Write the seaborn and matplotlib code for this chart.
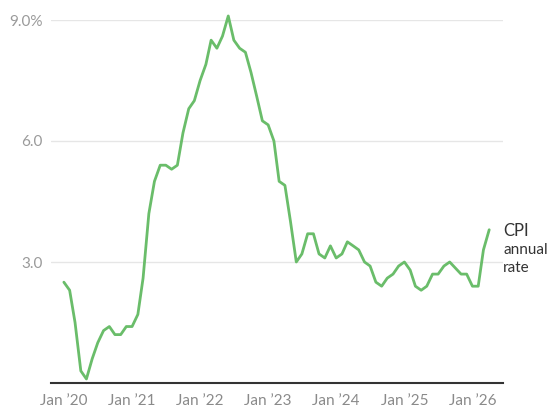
import matplotlib
matplotlib.use("Agg")
import matplotlib.pyplot as plt
import seaborn as sns
import pandas as pd

# Monthly CPI annual rate (%), Jan 2020 - Apr 2026
cpi_2020 = [2.5, 2.3, 1.5, 0.3, 0.1, 0.6, 1.0, 1.3, 1.4, 1.2, 1.2, 1.4]
cpi_2021 = [1.4, 1.7, 2.6, 4.2, 5.0, 5.4, 5.4, 5.3, 5.4, 6.2, 6.8, 7.0]
cpi_2022 = [7.5, 7.9, 8.5, 8.3, 8.6, 9.1, 8.5, 8.3, 8.2, 7.7, 7.1, 6.5]
cpi_2023 = [6.4, 6.0, 5.0, 4.9, 4.0, 3.0, 3.2, 3.7, 3.7, 3.2, 3.1, 3.4]
cpi_2024 = [3.1, 3.2, 3.5, 3.4, 3.3, 3.0, 2.9, 2.5, 2.4, 2.6, 2.7, 2.9]
cpi_2025 = [3.0, 2.8, 2.4, 2.3, 2.4, 2.7, 2.7, 2.9, 3.0, None, 2.7, 2.7]
cpi_2026 = [2.4, 2.4, 3.3, 3.8]

y_ticks = [3.0, 6.0, 9.0]
y_tick_labels = ["3.0", "6.0", "9.0%"]
x_tick_years = [2020, 2021, 2022, 2023, 2024, 2025, 2026]
x_tick_labels = ["Jan \u201920", "Jan \u201921", "Jan \u201922", "Jan \u201923",
                 "Jan \u201924", "Jan \u201925", "Jan \u201926"]
series_label = ["CPI", "annual", "rate"]

values = cpi_2020 + cpi_2021 + cpi_2022 + cpi_2023 + cpi_2024 + cpi_2025 + cpi_2026
dates = pd.date_range("2020-01-01", periods=len(values), freq="MS")
df = pd.DataFrame({"date": dates, "cpi": values}).dropna()

sns.set_theme(style="white")
plt.rcParams["font.family"] = ["Lato", "DejaVu Sans"]

fig = plt.figure(figsize=(5.5, 4.16), dpi=100)
ax = fig.add_axes([51 / 550, 33 / 416, (503 - 51) / 550, (383 - 20) / 416])

sns.lineplot(data=df, x="date", y="cpi", ax=ax, color="#6abd6a", linewidth=2.0,
             clip_on=False, zorder=3, solid_joinstyle="round", solid_capstyle="round")

ax.set_ylim(0, 9.0)
ax.set_xlim(pd.Timestamp("2019-10-24"), pd.Timestamp("2026-06-14"))

ax.set_yticks(y_ticks)
ax.set_yticklabels(y_tick_labels)
ax.set_xticks([pd.Timestamp(f"{y}-01-01") for y in x_tick_years])
ax.set_xticklabels(x_tick_labels)

ax.tick_params(axis="y", length=0, pad=6, labelsize=11, labelcolor="#9a9a9a")
ax.tick_params(axis="x", length=0, pad=8, labelsize=11, labelcolor="#8a8a8a")
ax.yaxis.grid(True, color="#e6e6e6", linewidth=1.0)
ax.xaxis.grid(False)
for s in ["top", "right", "left"]:
    ax.spines[s].set_visible(False)
ax.spines["bottom"].set_color("#333333")
ax.spines["bottom"].set_linewidth(1.5)
ax.set_xlabel("")
ax.set_ylabel("")

fig.text(503 / 550, 1 - 231 / 416, series_label[0], fontsize=12, color="#333333",
         va="center", ha="left")
fig.text(503 / 550, 1 - 250 / 416, series_label[1], fontsize=11, color="#333333",
         va="center", ha="left")
fig.text(503 / 550, 1 - 268 / 416, series_label[2], fontsize=11, color="#333333",
         va="center", ha="left")

fig.savefig("out.png", dpi=100)
